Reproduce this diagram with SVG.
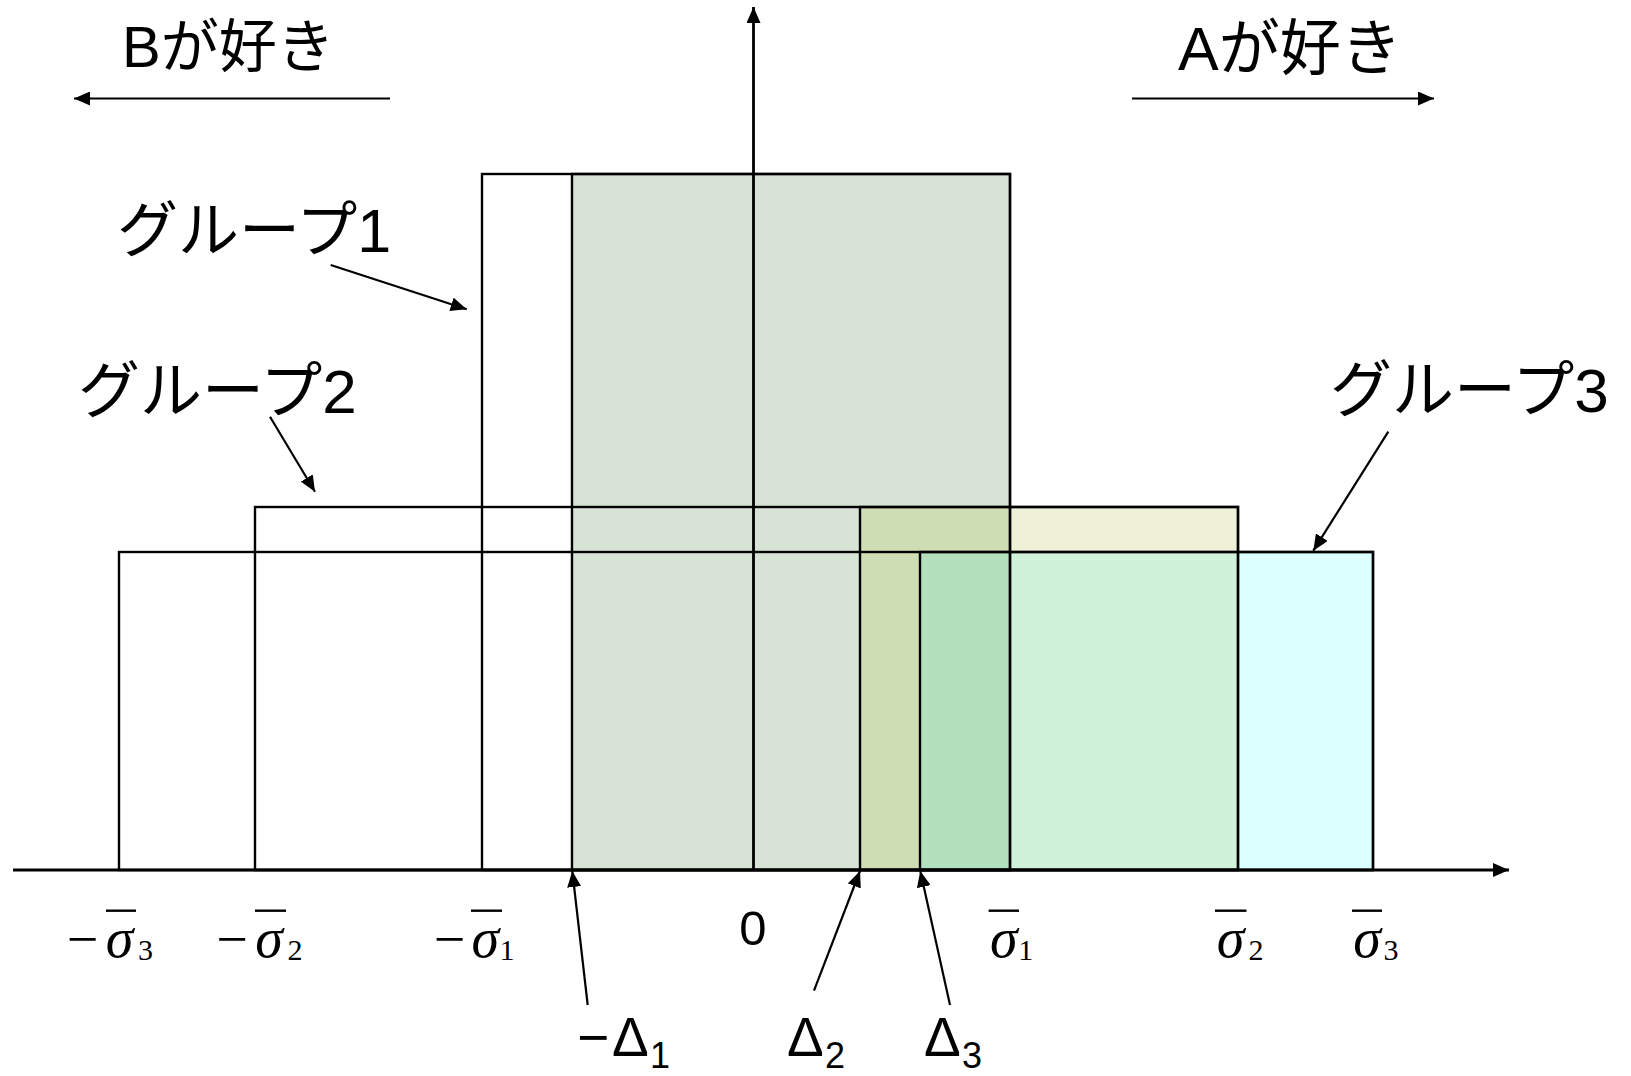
<svg xmlns="http://www.w3.org/2000/svg" width="1631" height="1076" viewBox="0 0 1631 1076">
<style>
  .jp { font-family: "Liberation Sans", "Noto Sans CJK JP", sans-serif; fill: #000; }
  .lat { font-family: "Liberation Sans", Arial, sans-serif; fill: #000; }
  .math { font-family: "Liberation Serif", "Times New Roman", serif; fill: #000; }
  .frame { fill: none; stroke: #000; stroke-width: 2.4; }
  .conn { stroke: #000; stroke-width: 2.2; fill: none; }
  .axis { stroke: #000; stroke-width: 2.8; fill: none; }
  .bar { stroke: #000; stroke-width: 2.4; }
</style>
<defs>
  <marker id="ah" viewBox="0 0 16 14" refX="16" refY="7" markerWidth="16" markerHeight="14" markerUnits="userSpaceOnUse" orient="auto">
    <path d="M0,0 L16,7 L0,14 z" fill="#000"/>
  </marker>
</defs>
<rect width="1631" height="1076" fill="#fff"/>

<!-- fills -->
<g id="fills" stroke="none">
  <rect x="572" y="174" width="438" height="696" fill="#D7E4D5"/>
  <rect x="860" y="507" width="378" height="363" fill="#EEF1D8"/>
  <rect x="920" y="552" width="453" height="318" fill="#DCFFFF"/>
  <rect x="860" y="507" width="150" height="363" fill="#CFDDB5"/>
  <rect x="1010" y="552" width="228" height="318" fill="#D1F2DA"/>
  <rect x="920" y="552" width="90" height="318" fill="#B3E1BE"/>
</g>

<g id="group1">
  <rect class="frame" x="482" y="174" width="528" height="696"/>
  <rect class="frame" x="572" y="174" width="438" height="696"/>
  <text class="jp" x="117" y="252" font-size="61">グループ1</text>
</g>
<g id="group2">
  <rect class="frame" x="255" y="507" width="983" height="363"/>
  <rect class="frame" x="860" y="507" width="378" height="363"/>
  <text class="jp" x="78" y="413" font-size="62">グループ2</text>
</g>
<g id="group3">
  <rect class="frame" x="119" y="552" width="1254" height="318"/>
  <rect class="frame" x="920" y="552" width="453" height="318"/>
  <text class="jp" x="1330" y="412" font-size="62">グループ3</text>
</g>

<g id="prefB">
  <text class="jp" x="122" y="67" font-size="58">Bが好き</text>
</g>
<g id="prefA">
  <text class="jp" x="1178" y="70" font-size="61">Aが好き</text>
</g>

<g id="connectors">
  <line class="axis" x1="13" y1="870" x2="1509" y2="870" marker-end="url(#ah)"/>
  <line class="axis" x1="753.5" y1="870" x2="753.5" y2="7" marker-end="url(#ah)"/>
  <line class="conn" x1="390" y1="98.5" x2="74" y2="98.5" marker-end="url(#ah)"/>
  <line class="conn" x1="1132" y1="98.5" x2="1434" y2="98.5" marker-end="url(#ah)"/>
  <line class="conn" x1="330.7" y1="265" x2="466.7" y2="309.3" marker-end="url(#ah)"/>
  <line class="conn" x1="270" y1="416.7" x2="315" y2="491.7" marker-end="url(#ah)"/>
  <line class="conn" x1="1388.3" y1="431.7" x2="1313.3" y2="550.7" marker-end="url(#ah)"/>
  <line class="conn" x1="587.7" y1="1005" x2="572.3" y2="871" marker-end="url(#ah)"/>
  <line class="conn" x1="814" y1="990.7" x2="860" y2="871" marker-end="url(#ah)"/>
  <line class="conn" x1="950" y1="1005" x2="920.3" y2="871" marker-end="url(#ah)"/>
</g>

<g id="zero">
  <text class="lat" x="753" y="945" font-size="49" text-anchor="middle">0</text>
</g>

<g id="delta-labels">
  <text class="lat" y="1056" font-size="55"><tspan x="577">−</tspan><tspan x="612">Δ</tspan><tspan x="650" y="1068" font-size="36">1</tspan></text>
  <text class="lat" y="1056" font-size="55"><tspan x="787">Δ</tspan><tspan x="825" y="1068" font-size="36">2</tspan></text>
  <text class="lat" y="1056" font-size="55"><tspan x="924">Δ</tspan><tspan x="962" y="1068" font-size="36">3</tspan></text>
</g>

<g id="sigma-labels">
  <g>
    <text class="math" x="82.5" y="958" font-size="56" text-anchor="middle">−</text>
    <text class="math" x="119.5" y="957" font-size="56" font-style="italic" text-anchor="middle">σ</text>
    <text class="math" x="145.5" y="960" font-size="30" text-anchor="middle">3</text>
    <line class="bar" x1="106" y1="910.7" x2="136" y2="910.7"/>
  </g>
  <g>
    <text class="math" x="232" y="958" font-size="56" text-anchor="middle">−</text>
    <text class="math" x="269" y="957" font-size="56" font-style="italic" text-anchor="middle">σ</text>
    <text class="math" x="295" y="960" font-size="30" text-anchor="middle">2</text>
    <line class="bar" x1="255" y1="910.7" x2="286" y2="910.7"/>
  </g>
  <g>
    <text class="math" x="449.5" y="958" font-size="56" text-anchor="middle">−</text>
    <text class="math" x="485.4" y="957" font-size="56" font-style="italic" text-anchor="middle">σ</text>
    <text class="math" x="507" y="960" font-size="30" text-anchor="middle">1</text>
    <line class="bar" x1="471" y1="910.7" x2="502" y2="910.7"/>
  </g>
  <g>
    <text class="math" x="1003.8" y="957" font-size="56" font-style="italic" text-anchor="middle">σ</text>
    <text class="math" x="1025.8" y="960" font-size="30" text-anchor="middle">1</text>
    <line class="bar" x1="988.6" y1="910.7" x2="1019" y2="910.7"/>
  </g>
  <g>
    <text class="math" x="1230.5" y="957" font-size="56" font-style="italic" text-anchor="middle">σ</text>
    <text class="math" x="1256" y="960" font-size="30" text-anchor="middle">2</text>
    <line class="bar" x1="1215" y1="910.7" x2="1246.5" y2="910.7"/>
  </g>
  <g>
    <text class="math" x="1367" y="957" font-size="56" font-style="italic" text-anchor="middle">σ</text>
    <text class="math" x="1391" y="960" font-size="30" text-anchor="middle">3</text>
    <line class="bar" x1="1352" y1="910.7" x2="1382" y2="910.7"/>
  </g>
</g>
</svg>
